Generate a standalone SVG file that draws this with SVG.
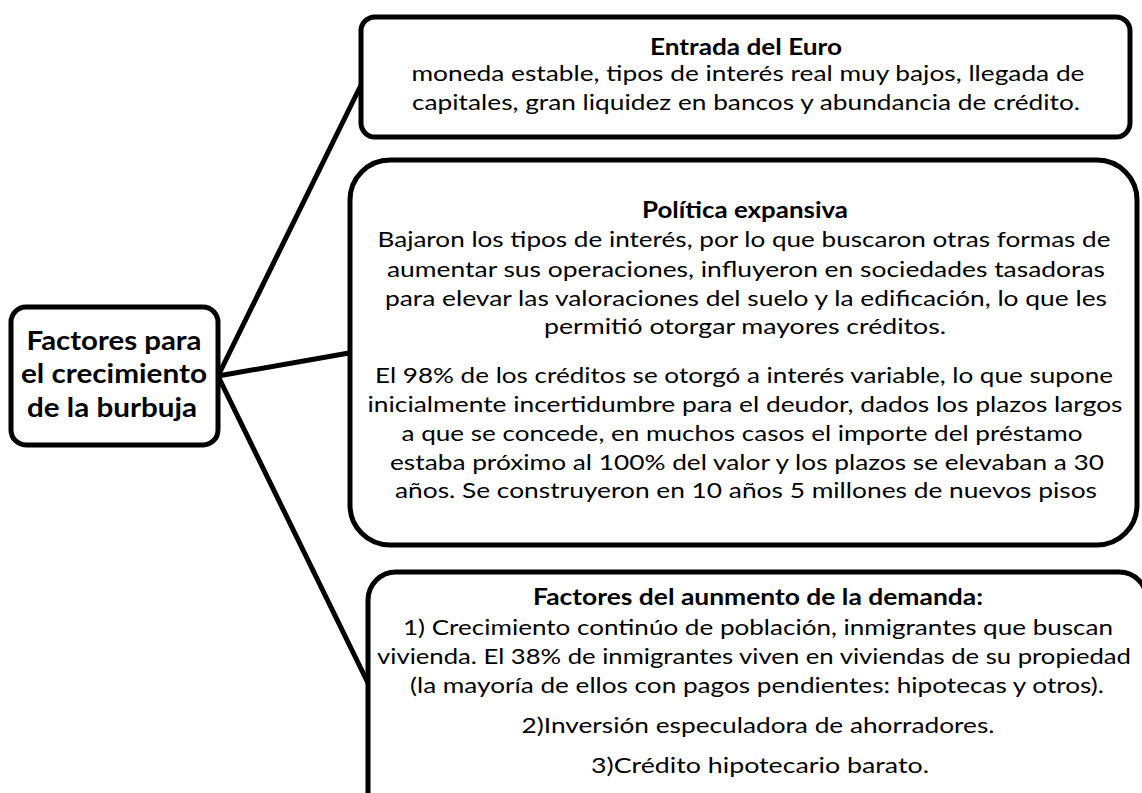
<svg xmlns="http://www.w3.org/2000/svg" width="1142" height="793" viewBox="0 0 1142 793">
<style>
.box{fill:#fff;stroke:#000;stroke-width:5}
.con line{stroke:#000;stroke-width:5;stroke-linecap:round}
text{font-family:Lato,"Open Sans","Liberation Sans",sans-serif;fill:#000;text-anchor:middle}
.t{font-size:22px}
.b{font-size:22px;font-weight:bold}
.L{font-size:26px;font-weight:bold}
</style>
<rect width="1142" height="793" fill="#fff"/>
<g id="connectors" class="con">
<line x1="218" y1="376" x2="362" y2="83"/>
<line x1="218" y1="376" x2="349" y2="353"/>
<line x1="218" y1="376" x2="368" y2="683"/>
</g>
<g id="root">
<rect class="box" x="11" y="307" width="207" height="138" rx="15"/>
<text class="L" x="114" y="350" textLength="175" lengthAdjust="spacingAndGlyphs">Factores para</text>
<text class="L" x="114" y="383" textLength="186" lengthAdjust="spacingAndGlyphs">el crecimiento</text>
<text class="L" x="112" y="417" textLength="170" lengthAdjust="spacingAndGlyphs">de la burbuja</text>
</g>
<g id="euro">
<rect class="box" x="361" y="17" width="769" height="120" rx="14"/>
<text class="b" x="746" y="55" textLength="192" lengthAdjust="spacingAndGlyphs">Entrada del Euro</text>
<text class="t" x="748" y="81" textLength="673" lengthAdjust="spacingAndGlyphs">moneda estable, tipos de interés real muy bajos, llegada de</text>
<text class="t" x="746" y="110" textLength="668" lengthAdjust="spacingAndGlyphs">capitales, gran liquidez en bancos y abundancia de crédito.</text>
</g>
<g id="politica">
<rect class="box" x="350" y="160" width="787" height="385" rx="40"/>
<text class="b" x="745" y="218" textLength="206" lengthAdjust="spacingAndGlyphs">Política expansiva</text>
<text class="t" x="744" y="247" textLength="733" lengthAdjust="spacingAndGlyphs">Bajaron los tipos de interés, por lo que buscaron otras formas de</text>
<text class="t" x="746" y="277" textLength="718" lengthAdjust="spacingAndGlyphs">aumentar sus operaciones, influyeron en sociedades tasadoras</text>
<text class="t" x="746" y="306" textLength="722" lengthAdjust="spacingAndGlyphs">para elevar las valoraciones del suelo y la edificación, lo que les</text>
<text class="t" x="745" y="334" textLength="402" lengthAdjust="spacingAndGlyphs">permitió otorgar mayores créditos.</text>
<text class="t" x="744" y="383" textLength="738" lengthAdjust="spacingAndGlyphs">El 98% de los créditos se otorgó a interés variable, lo que supone</text>
<text class="t" x="745" y="412" textLength="755" lengthAdjust="spacingAndGlyphs">inicialmente incertidumbre para el deudor, dados los plazos largos</text>
<text class="t" x="742" y="441" textLength="681" lengthAdjust="spacingAndGlyphs">a que se concede, en muchos casos el importe del préstamo</text>
<text class="t" x="747" y="470" textLength="714" lengthAdjust="spacingAndGlyphs">estaba próximo al 100% del valor y los plazos se elevaban a 30</text>
<text class="t" x="746" y="498" textLength="702" lengthAdjust="spacingAndGlyphs">años. Se construyeron en 10 años 5 millones de nuevos pisos</text>
</g>
<g id="demanda">
<rect class="box" x="368" y="572" width="779" height="260" rx="28"/>
<text class="b" x="758" y="605" textLength="450" lengthAdjust="spacingAndGlyphs">Factores del aunmento de la demanda:</text>
<text class="t" x="758" y="635" textLength="710" lengthAdjust="spacingAndGlyphs">1) Crecimiento continúo de población, inmigrantes que buscan</text>
<text class="t" x="754" y="664" textLength="754" lengthAdjust="spacingAndGlyphs">vivienda. El 38% de inmigrantes viven en viviendas de su propiedad</text>
<text class="t" x="757" y="693" textLength="694" lengthAdjust="spacingAndGlyphs">(la mayoría de ellos con pagos pendientes: hipotecas y otros).</text>
<text class="t" x="758" y="733" textLength="473" lengthAdjust="spacingAndGlyphs">2)Inversión especuladora de ahorradores.</text>
<text class="t" x="760" y="773" textLength="338" lengthAdjust="spacingAndGlyphs">3)Crédito hipotecario barato.</text>
</g>
</svg>
